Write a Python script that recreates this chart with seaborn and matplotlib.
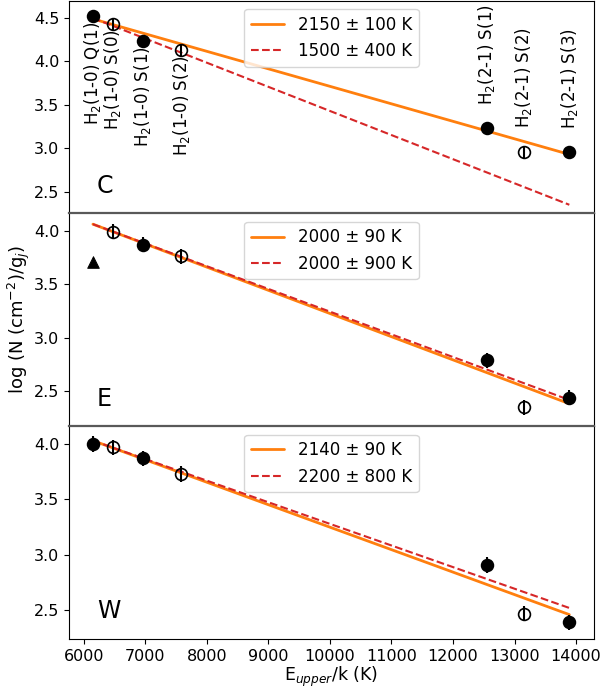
import numpy as np
import matplotlib
matplotlib.use("Agg")
import matplotlib.pyplot as plt
import seaborn as sns

# upper level energies (K) of the H2 lines
e_upper = [6149, 6471, 6956, 7584, 12550, 13150, 13890]
line_names = ['H$_2$(1-0) Q(1)', 'H$_2$(1-0) S(0)', 'H$_2$(1-0) S(1)', 'H$_2$(1-0) S(2)',
              'H$_2$(2-1) S(1)', 'H$_2$(2-1) S(2)', 'H$_2$(2-1) S(3)']
# filled = True -> filled marker, False -> open marker
filled = [True, False, True, False, True, False, True]

# log N values per region (None = no detection)
logn_C = [4.52, 4.43, 4.24, 4.13, 3.23, 2.96, 2.955]
logn_E = [None, 3.99, 3.87, 3.76, 2.79, 2.35, 2.44]
logn_W = [4.00, 3.97, 3.87, 3.73, 2.91, 2.47, 2.39]
err = 0.07

# upper limit in region E
lim_E_x = [6149]
lim_E_y = [3.71]

# fit lines: endpoints
fit_x = [6149, 13890]
fit1_C = [4.49, 2.93]
fit2_C = [4.50, 2.35]
fit1_E = [4.06, 2.385]
fit2_E = [4.06, 2.42]
fit1_W = [4.03, 2.46]
fit2_W = [4.03, 2.52]

labels_C = ['2150 ± 100 K', '1500 ± 400 K']
labels_E = ['2000 ± 90 K', '2000 ± 900 K']
labels_W = ['2140 ± 90 K', '2200 ± 800 K']

panels = [
    ('C', logn_C, fit1_C, fit2_C, labels_C, (2.25, 4.70)),
    ('E', logn_E, fit1_E, fit2_E, labels_E, (2.175, 4.16)),
    ('W', logn_W, fit1_W, fit2_W, labels_W, (2.24, 4.16)),
]

sns.set_style('ticks', rc={'axes.edgecolor': 'black', 'xtick.color': 'black',
                           'ytick.color': 'black', 'text.color': 'black',
                           'axes.labelcolor': 'black'})
plt.rcParams['font.family'] = ['DejaVu Sans']
plt.rcParams['font.size'] = 12

fig, axes = plt.subplots(3, 1, figsize=(6.03, 6.92), dpi=100, sharex=True)
fig.subplots_adjust(left=0.1144, right=0.985, bottom=0.0766, top=0.999, hspace=0)

for ax, (name, logn, f1, f2, labs, ylim) in zip(axes, panels):
    sns.lineplot(x=fit_x, y=f1, ax=ax, color='tab:orange', lw=2, label=labs[0])
    sns.lineplot(x=fit_x, y=f2, ax=ax, color='tab:red', lw=1.5, ls='--', label=labs[1])

    for x, y, f in zip(e_upper, logn, filled):
        if y is None:
            continue
        ax.errorbar(x, y, yerr=err, fmt='none', ecolor='black', elinewidth=1.5, capsize=0, zorder=3)
        ax.plot(x, y, marker='o', ms=8.5, mec='black', mew=1.2,
                mfc='black' if f else 'none', ls='none', zorder=4)

    if name == 'E':
        sns.scatterplot(x=lim_E_x, y=lim_E_y, ax=ax, marker='^', s=70, color='black',
                        edgecolor='black', zorder=4)

    ax.set_ylim(*ylim)
    ax.set_yticks([2.5, 3.0, 3.5, 4.0] + ([4.5] if name == 'C' else []))
    ax.text(0.053, 0.13, name, transform=ax.transAxes, fontsize=17, va='center', ha='left')
    ax.legend(loc='upper center', fontsize=12, framealpha=0.8)
    ax.set_ylabel('')
    ax.tick_params(labelsize=11.5)
    if name != 'C':
        ax.spines['top'].set_color('0.35')
        ax.spines['top'].set_linewidth(1.6)

# line identifications in the top panel
axC = axes[0]
for x, y, t in zip(e_upper, logn_C, line_names):
    if x < 10000:
        axC.annotate(t, (x, y), xytext=(0, -4), textcoords='offset points',
                     rotation=90, ha='center', va='top', fontsize=12)
    else:
        axC.annotate(t, (x, y), xytext=(0, 17), textcoords='offset points',
                     rotation=90, ha='center', va='bottom', fontsize=12)

axes[-1].set_xlim(5760, 14290)
axes[-1].set_xticks(np.arange(6000, 14001, 1000))
axes[-1].set_xlabel('E$_{upper}$/k (K)', fontsize=12.5, labelpad=1)
axes[1].set_ylabel('log (N (cm$^{-2}$)/g$_j$)', fontsize=13, labelpad=1)

fig.savefig('out.png', dpi=100)
